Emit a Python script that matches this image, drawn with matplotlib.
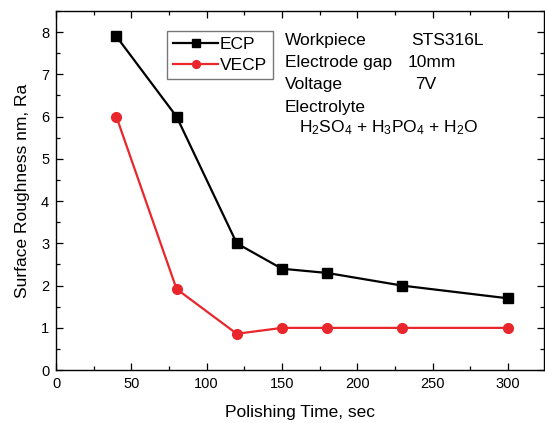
import matplotlib
matplotlib.use("Agg")
import matplotlib.pyplot as plt
from matplotlib.ticker import MultipleLocator

plt.rcParams['font.family'] = ['Liberation Sans', 'DejaVu Sans']
plt.rcParams['mathtext.fontset'] = 'custom'
plt.rcParams['mathtext.rm'] = 'Liberation Sans'
plt.rcParams['mathtext.it'] = 'Liberation Sans:italic'
plt.rcParams['mathtext.bf'] = 'Liberation Sans:bold'

time_s = [40, 80, 120, 150, 180, 230, 300]
ecp = [7.9, 6.0, 3.0, 2.4, 2.3, 2.0, 1.7]
vecp = [6.0, 1.92, 0.86, 1.0, 1.0, 1.0, 1.0]

fig = plt.figure(figsize=(5.45, 4.23), dpi=100)
ax = fig.add_axes([0.103, 0.125, 0.895, 0.849])

ax.plot(time_s, ecp, color='black', marker='s', markersize=7, linewidth=1.6, label='ECP')
ax.plot(time_s, vecp, color='#e8262b', marker='o', markersize=7, linewidth=1.6, label='VECP')

ax.set_xlim(0, 324)
ax.set_ylim(0, 8.5)
ax.xaxis.set_major_locator(MultipleLocator(50))
ax.xaxis.set_minor_locator(MultipleLocator(25))
ax.yaxis.set_major_locator(MultipleLocator(1))
ax.yaxis.set_minor_locator(MultipleLocator(0.5))
ax.tick_params(which='both', direction='in', top=True, right=True, labelsize=10.5)
ax.tick_params(which='major', length=5, width=0.9, pad=5)
ax.tick_params(which='minor', length=3, width=0.9)
for s in ax.spines.values():
    s.set_linewidth(1.0)

ax.set_xlabel('Polishing Time, sec', fontsize=12.5, labelpad=10)
ax.set_ylabel('Surface Roughness nm, Ra', fontsize=12.5, labelpad=8)

leg = ax.legend(loc='upper left', bbox_to_anchor=(0.227, 0.944), fontsize=12.5,
                frameon=True, fancybox=False, edgecolor='#555555',
                handlelength=2.6, handletextpad=0.1, borderpad=0.35, labelspacing=0.3,
                borderaxespad=0, markerscale=0.8)
leg.get_frame().set_linewidth(1.0)

fs = 12.5
ax.text(151.7, 7.81, 'Workpiece', fontsize=fs, va='center')
ax.text(235.8, 7.81, 'STS316L', fontsize=fs, va='center')
ax.text(151.7, 7.27, 'Electrode gap', fontsize=fs, va='center')
ax.text(233.8, 7.27, '10mm', fontsize=fs, va='center')
ax.text(151.7, 6.75, 'Voltage', fontsize=fs, va='center')
ax.text(238.4, 6.75, '7V', fontsize=fs, va='center')
ax.text(151.7, 6.22, 'Electrolyte', fontsize=fs, va='center')
ax.text(161, 5.73, r'H$_2$SO$_4$ + H$_3$PO$_4$ + H$_2$O', fontsize=fs, va='center')

fig.savefig('out.png', dpi=100)
